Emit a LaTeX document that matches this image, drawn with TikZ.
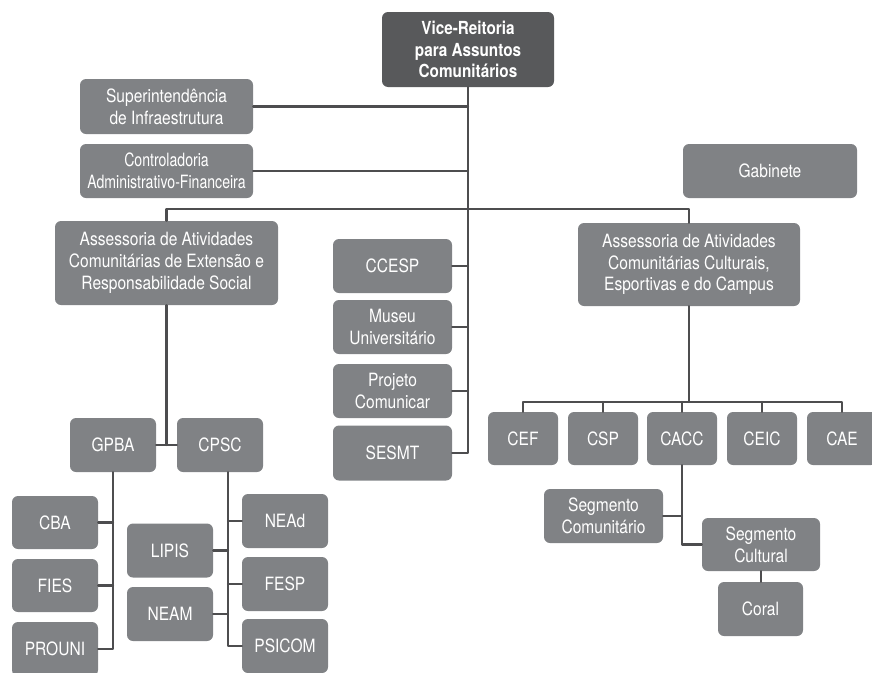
\documentclass[tikz,border=0pt]{standalone}
\usepackage{fontspec}
\setmainfont{TeX Gyre Heros}[FakeStretch=0.85]
\usetikzlibrary{positioning,calc}
\definecolor{boxgray}{RGB}{128,130,133}
\definecolor{topgray}{RGB}{88,89,91}
\definecolor{linegray}{RGB}{77,77,79}
\tikzset{
  unit/.style={fill=boxgray,text=white,rounded corners=6pt,align=center,inner sep=0pt},
  chief/.style={unit,fill=topgray,font=\fontsize{18}{21.7}\selectfont\bfseries},
  sz/.style 2 args={minimum width=#1pt,minimum height=#2pt},
  link/.style={draw=linegray,line width=2.2pt}
}

\begin{document}
\begin{tikzpicture}[x=1pt,y=-1pt,line cap=round,line join=round,font=\fontsize{18.3}{21.7}\selectfont]
\clip (0,0) rectangle (872,672);
% top
\node[chief,sz={172}{75}] (vr) at (468,49.5) {Vice-Reitoria\\para Assuntos\\Comunitários};
\node[unit,sz={173}{55}] (super) at (166.5,106.5) {Superintendência\\de Infraestrutura};
\node[unit,sz={173}{54},font=\fontsize{18.3}{21.7}\selectfont\addfontfeatures{FakeStretch=0.77}] (contr) at (166.5,171) {Controladoria\\Administrativo-Financeira};
\node[unit,sz={174}{54}] (gab) at (770,171) {Gabinete};
% left branch
\node[unit,sz={223}{84}] (assl) at (166.5,263) {Assessoria de Atividades\\Comunitárias de Extensão e\\Responsabilidade Social};
\node[unit,sz={86}{54}] (gpba) at (113,445) {GPBA};
\node[unit,sz={86}{54}] (cpsc) at (220,445) {CPSC};
\node[unit,sz={86}{53}] (cba) at (55,522.5) {CBA};
\node[unit,sz={86}{53}] (fies) at (55,585.5) {FIES};
\node[unit,sz={86}{54}] (prouni) at (55,649) {PROUNI};
\node[unit,sz={86}{54}] (lipis) at (170,550.5) {LIPIS};
\node[unit,sz={86}{54}] (neam) at (170,614) {NEAM};
\node[unit,sz={86}{54}] (nead) at (285,521) {NEAd};
\node[unit,sz={86}{54}] (fesp) at (285,584) {FESP};
\node[unit,sz={86}{54}] (psicom) at (285,646) {PSICOM};
% middle column
\node[unit,sz={119}{54}] (ccesp) at (392.5,266) {CCESP};
\node[unit,sz={119}{54}] (museu) at (392.5,327) {Museu\\Universitário};
\node[unit,sz={119}{54}] (proj) at (392.5,391) {Projeto\\Comunicar};
\node[unit,sz={119}{55}] (sesmt) at (392.5,453) {SESMT};
% right branch
\node[unit,sz={222}{83}] (assr) at (689,264.5) {Assessoria de Atividades\\Comunitárias Culturais,\\Esportivas e do Campus};
\node[unit,sz={70}{53}] (cef) at (523,438.5) {CEF};
\node[unit,sz={70}{53}] (csp) at (603,438.5) {CSP};
\node[unit,sz={70}{53}] (cacc) at (682,438.5) {CACC};
\node[unit,sz={70}{53}] (ceic) at (762,438.5) {CEIC};
\node[unit,sz={70}{53}] (cae) at (842,438.5) {CAE};
\node[unit,sz={119}{54}] (segcom) at (603.5,516) {Segmento\\Comunitário};
\node[unit,sz={118}{53}] (segcul) at (761,544.5) {Segmento\\Cultural};
\node[unit,sz={85}{54}] (coral) at (760.5,609) {Coral};

% connectors
\draw[link] (vr.south) |- (sesmt.east);
\foreach \n in {super,contr}
  \draw[link] (\n.east) -- (\n.east -| vr.south);
\foreach \n in {ccesp,museu,proj}
  \draw[link] (\n.east) -- (\n.east -| vr.south);
\draw[link] (assl.north) -- ++(0,-12) -| (assr.north);
% left
\draw[link] (gpba.east) -- (cpsc.west);
\draw[link] (assl.south) -- (assl.south |- gpba.east);
\draw[link] (gpba.south) |- (prouni.east);
\foreach \n in {cba,fies}
  \draw[link] (\n.east) -- (\n.east -| gpba.south);
\coordinate (cv) at ($(cpsc.south)+(8,0)$);
\draw[link] (cv) |- (psicom.west);
\foreach \n in {nead,fesp}
  \draw[link] (\n.west) -- (\n.west -| cv);
\foreach \n in {lipis,neam}
  \draw[link] (\n.east) -- (\n.east -| cv);
% right
\coordinate (bus) at (0,402);
\draw[link] (assr.south) -- (assr.south |- bus);
\draw[link] (cef.north) -- (cef.north |- bus) -| (cae.north);
\foreach \n in {csp,cacc,ceic}
  \draw[link] (\n.north) -- (\n.north |- bus);
\draw[link] (cacc.south) |- (segcul.west);
\draw[link] (segcom.east) -- (segcom.east -| cacc.south);
\draw[link] (segcul.south) -- (segcul.south |- coral.north);
\end{tikzpicture}
\end{document}
